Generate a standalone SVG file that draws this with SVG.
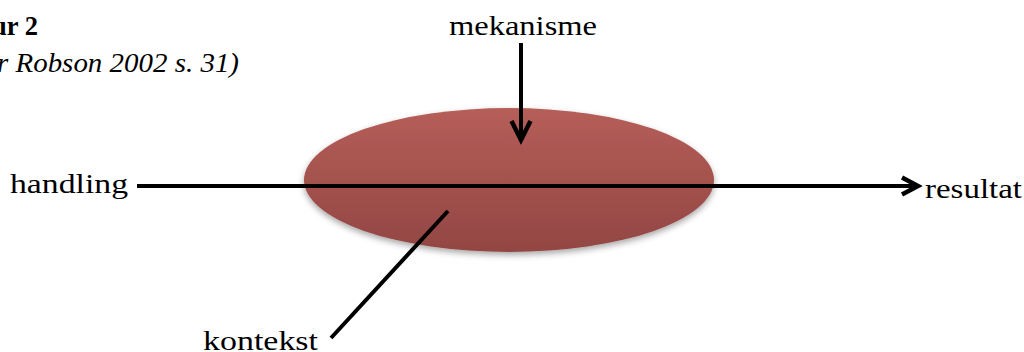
<svg xmlns="http://www.w3.org/2000/svg" width="1024" height="352" viewBox="0 0 1024 352">
  <defs>
    <linearGradient id="fill" x1="0" y1="0" x2="0" y2="1">
      <stop offset="0" stop-color="#b65e59"/>
      <stop offset="1" stop-color="#924643"/>
    </linearGradient>
    <filter id="shadow" x="-10%" y="-20%" width="120%" height="150%">
      <feDropShadow dx="0" dy="3" stdDeviation="3" flood-color="#000" flood-opacity="0.35"/>
    </filter>
  </defs>
  <style>
    text { font-family: "Liberation Serif", "DejaVu Serif", serif; font-size: 28px; fill: #000; }
    .title { font-weight: bold; }
    .sub { font-style: italic; }
    .line { stroke: #000; stroke-width: 4; fill: none; }
    .head { stroke: #000; stroke-width: 4.5; fill: none; stroke-linecap: butt; stroke-linejoin: miter; }
  </style>
  <g id="caption">
    <text class="title" x="-8" y="35" textLength="46" lengthAdjust="spacingAndGlyphs">ur 2</text>
    <text class="sub" x="-3" y="72" textLength="242" lengthAdjust="spacingAndGlyphs">r Robson 2002 s. 31)</text>
  </g>
  <g id="ellipse">
    <ellipse cx="509" cy="180" rx="205" ry="72" fill="url(#fill)" filter="url(#shadow)"/>
  </g>
  <g id="connectors">
    <line class="line" x1="137" y1="186" x2="916" y2="186"/>
    <polyline class="head" points="902,177.5 918,186 902,194.5"/>
    <line class="line" x1="521" y1="43" x2="521" y2="140"/>
    <polyline class="head" points="511.5,121 521,140 530.5,121"/>
    <line class="line" x1="448" y1="211" x2="331" y2="338"/>
  </g>
  <g id="label-mekanisme">
    <text x="449" y="35" textLength="148" lengthAdjust="spacingAndGlyphs">mekanisme</text>
  </g>
  <g id="label-handling">
    <text x="10" y="193" textLength="118" lengthAdjust="spacingAndGlyphs">handling</text>
  </g>
  <g id="label-resultat">
    <text x="925" y="198" textLength="97" lengthAdjust="spacingAndGlyphs">resultat</text>
  </g>
  <g id="label-kontekst">
    <text x="203" y="350" textLength="115" lengthAdjust="spacingAndGlyphs">kontekst</text>
  </g>
</svg>
